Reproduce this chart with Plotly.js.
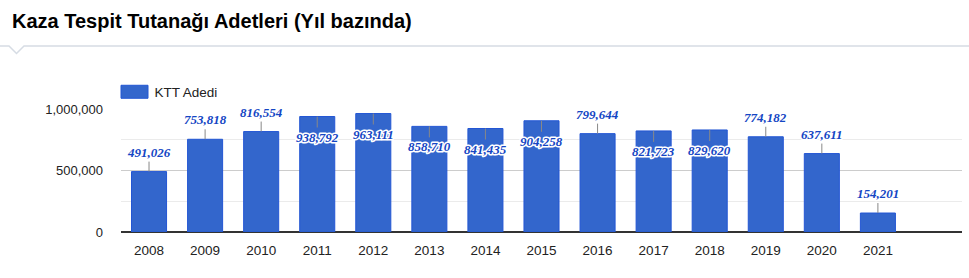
<!DOCTYPE html>
<html>
<head>
<meta charset="utf-8">
<script src="https://cdn.plot.ly/plotly-3.0.1.min.js"></script>
<style>
  html, body { margin: 0; padding: 0; background: #fff; }
  #chart { width: 969px; height: 278px; }
  .annotation-text { stroke: #ffffff; stroke-width: 3px; paint-order: stroke fill; stroke-linejoin: round; }
</style>
</head>
<body>
<div id="chart"></div>
<script>
// ---- data ----
const years = ['2008','2009','2010','2011','2012','2013','2014','2015','2016','2017','2018','2019','2020','2021'];
const kttCounts = [491026, 753818, 816554, 938792, 963111, 858710, 841435, 904258, 799644, 821723, 829620, 774182, 637611, 154201];
const seriesName = 'KTT Adedi';
const yTicks = [0, 500000, 1000000];
const chartTitle = 'Kaza Tespit Tutanağı Adetleri (Yıl bazında)';

// ---- layout geometry ----
const W = 969, H = 278;
const M = { l: 121, r: 7, t: 109, b: 46 };
const plotW = W - M.l - M.r, plotH = H - M.t - M.b;
const px2x = p => (p - M.l) / plotW;
const py2y = p => (H - M.b - p) / plotH;

const xYears = years.map(Number);
const insideThreshold = 820000;
const fmt = v => v.toLocaleString('en-US');

const annotations = xYears.map((yr, i) => {
  const v = kttCounts[i];
  const inside = v > insideThreshold;
  return {
    x: yr, y: v, xref: 'x', yref: 'y',
    text: '<b><i>' + fmt(v) + '</i></b>',
    showarrow: true, arrowhead: 0, arrowwidth: 1, arrowcolor: '#888888',
    ax: 0, ay: inside ? 11 : -10,
    yanchor: inside ? 'top' : 'bottom',
    font: { family: 'Liberation Serif', size: 13, color: '#1446c4' }
  };
});

const sepPath = 'M' + px2x(0) + ',' + py2y(46) +
  ' L' + px2x(9) + ',' + py2y(46) +
  ' L' + px2x(16.5) + ',' + py2y(53.5) +
  ' L' + px2x(24) + ',' + py2y(46) +
  ' L' + px2x(W) + ',' + py2y(46);

const trace = {
  type: 'bar', x: xYears, y: kttCounts, name: seriesName,
  marker: { color: '#3366cc', line: { color: '#2356d4', width: 1 } },
  hoverinfo: 'none', showlegend: true
};

const layout = {
  width: W, height: H,
  margin: M,
  paper_bgcolor: '#ffffff', plot_bgcolor: '#ffffff',
  font: { family: 'Arial, Liberation Sans, sans-serif', color: '#222222' },
  title: {
    text: '<b>' + chartTitle + '</b>',
    font: { family: 'Arial, Liberation Sans, sans-serif', size: 20, color: '#000000' },
    x: 12 / W, xref: 'container', xanchor: 'left',
    y: 1 - 21 / H, yref: 'container', yanchor: 'middle'
  },
  bargap: 0.375,
  xaxis: {
    type: 'linear', range: [xYears[0] - 0.5, xYears[xYears.length - 1] + 1.5],
    tickvals: xYears, ticktext: years,
    showgrid: false, showline: false, zeroline: false,
    ticks: '', ticklabelstandoff: 8,
    tickfont: { family: 'Arial, Liberation Sans, sans-serif', size: 13.5, color: '#222222' },
    fixedrange: true
  },
  yaxis: {
    range: [0, 1000000],
    tickvals: yTicks, tickformat: ',d',
    showgrid: true, gridcolor: '#cccccc', gridwidth: 1,
    minor: { dtick: 250000, showgrid: true, gridcolor: '#ebebeb', gridwidth: 1 },
    zeroline: true, zerolinecolor: '#333333', zerolinewidth: 1.5,
    showline: false, ticks: '', ticklabelstandoff: 17,
    tickfont: { family: 'Arial, Liberation Sans, sans-serif', size: 13, color: '#222222' },
    fixedrange: true
  },
  showlegend: true,
  legend: {
    orientation: 'h', x: px2x(114.5), xanchor: 'left',
    y: py2y(92), yanchor: 'middle',
    font: { family: 'Arial, Liberation Sans, sans-serif', size: 13.5, color: '#222222' },
    bgcolor: 'rgba(0,0,0,0)', borderwidth: 0
  },
  annotations: annotations,
  shapes: [{
    type: 'path', xref: 'paper', yref: 'paper', path: sepPath,
    line: { color: '#d6dce4', width: 1.5 }, layer: 'above'
  }]
};

function widenSwatch() {
  document.querySelectorAll('.legend .legendpoints path').forEach(p => {
    p.setAttribute('d', 'M-13.5,6.5H13.5V-6.5H-13.5Z');
  });
}

const gd = document.getElementById('chart');
Plotly.newPlot(gd, [trace], layout, { displayModeBar: false, staticPlot: true }).then(() => {
  widenSwatch();
  gd.on && gd.on('plotly_afterplot', widenSwatch);
});
</script>
</body>
</html>
